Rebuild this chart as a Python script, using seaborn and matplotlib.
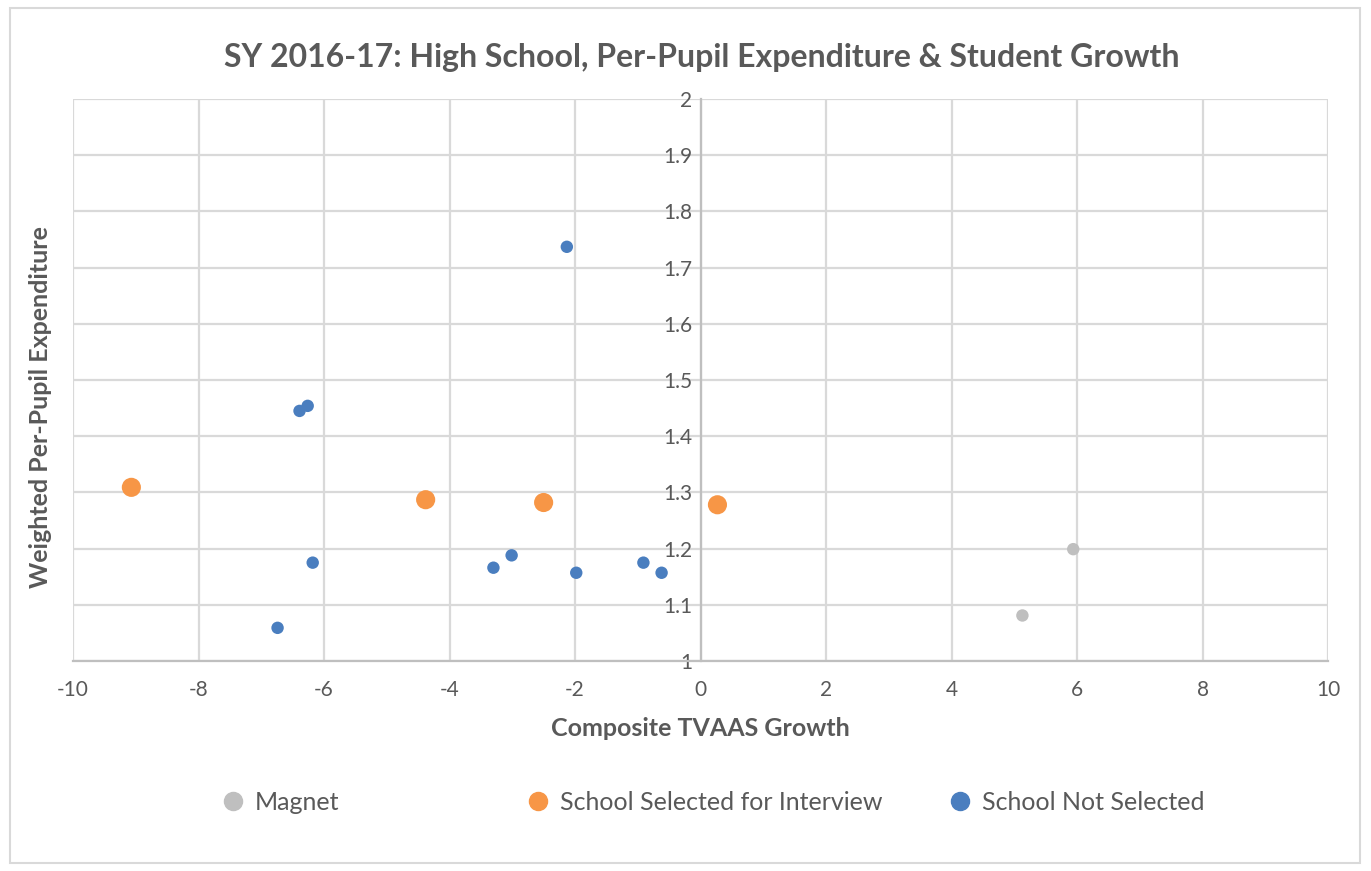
import numpy as np
import pandas as pd
import seaborn as sns
from matplotlib import pyplot as plt
from matplotlib.patches import Rectangle

# values
magnet_x = [5.94, 5.13]
magnet_y = [1.199, 1.081]

selected_x = [-9.07, -4.38, -2.50, 0.27]
selected_y = [1.309, 1.287, 1.282, 1.278]

not_selected_x = [-2.13, -6.39, -6.26, -6.18, -6.74, -3.30, -3.01, -1.98, -0.91, -0.62]
not_selected_y = [1.737, 1.445, 1.454, 1.175, 1.059, 1.166, 1.188, 1.157, 1.175, 1.157]

groups = ['Magnet', 'School Selected for Interview', 'School Not Selected']
colors = ['#BFBFBF', '#F79646', '#4A7EBF']
marker_sizes = [80, 190, 80]

x_ticks = [-10, -8, -6, -4, -2, 0, 2, 4, 6, 8, 10]
y_ticks = [1, 1.1, 1.2, 1.3, 1.4, 1.5, 1.6, 1.7, 1.8, 1.9, 2]

df = pd.DataFrame({
    'growth': magnet_x + selected_x + not_selected_x,
    'expenditure': magnet_y + selected_y + not_selected_y,
    'group': [groups[0]] * len(magnet_x) + [groups[1]] * len(selected_x) + [groups[2]] * len(not_selected_x),
})

sns.set_style('white')
plt.rcParams['font.family'] = ['Lato', 'DejaVu Sans']
text_color = '#595959'
grid_color = '#D9D9D9'

fig = plt.figure(figsize=(13.71, 8.71), dpi=100)
ax = fig.add_axes([73 / 1371, 1 - 661 / 871, (1328 - 73) / 1371, (661 - 99) / 871])

sns.scatterplot(
    data=df, x='growth', y='expenditure', hue='group', size='group',
    hue_order=groups, palette=dict(zip(groups, colors)),
    sizes=dict(zip(groups, marker_sizes)), size_order=groups,
    linewidth=0, ax=ax, legend=False, zorder=3
)

ax.set_xlim(-10, 10)
ax.set_ylim(1, 2)
ax.set_xticks(x_ticks)
ax.set_xticklabels([str(t) for t in x_ticks])
ax.set_yticks(y_ticks)
ax.set_yticklabels([f'{t:g}' for t in y_ticks])
ax.grid(True, color=grid_color, linewidth=1.6, zorder=0)
ax.set_axisbelow(True)

for side in ['top', 'right']:
    ax.spines[side].set_visible(False)
ax.spines['left'].set_position(('data', 0))
ax.spines['left'].set_color('#BFBFBF')
ax.spines['left'].set_linewidth(1.6)
ax.spines['bottom'].set_color('#BFBFBF')
ax.spines['bottom'].set_linewidth(1.6)
ax.tick_params(axis='both', length=0, labelsize=15, labelcolor=text_color)
ax.tick_params(axis='x', pad=14)
ax.tick_params(axis='y', pad=6)

ax.set_xlabel('Composite TVAAS Growth', fontsize=18, fontweight='bold', color=text_color, labelpad=12)
ax.set_ylabel('Weighted Per-Pupil Expenditure', fontsize=18, fontweight='bold', color=text_color)
ax.yaxis.set_label_coords(-0.017, 0.452)

fig.text(0.512, 1 - 57 / 871, 'SY 2016-17: High School, Per-Pupil Expenditure & Student Growth',
         ha='center', va='center', fontsize=23, fontweight='bold', color=text_color)

# legend, one entry at a time so the spacing follows the original
legend_x = [232, 537, 959]
for name, c, lx in zip(groups, colors, legend_x):
    h = plt.Line2D([], [], marker='o', linestyle='', markersize=13, color=c)
    fig.legend([h], [name], loc='center left', bbox_to_anchor=((lx - 12) / 1371, 1 - 802 / 871),
               frameon=False, fontsize=18, labelcolor=text_color, handlelength=1.0,
               handletextpad=0.4, borderpad=0, borderaxespad=0)

fig.patches.append(Rectangle((10 / 1371, 8 / 871), 1350 / 1371, 855 / 871, transform=fig.transFigure,
                             fill=False, edgecolor='#D9D9D9', linewidth=1.5))

plt.savefig('out.png', dpi=100)
